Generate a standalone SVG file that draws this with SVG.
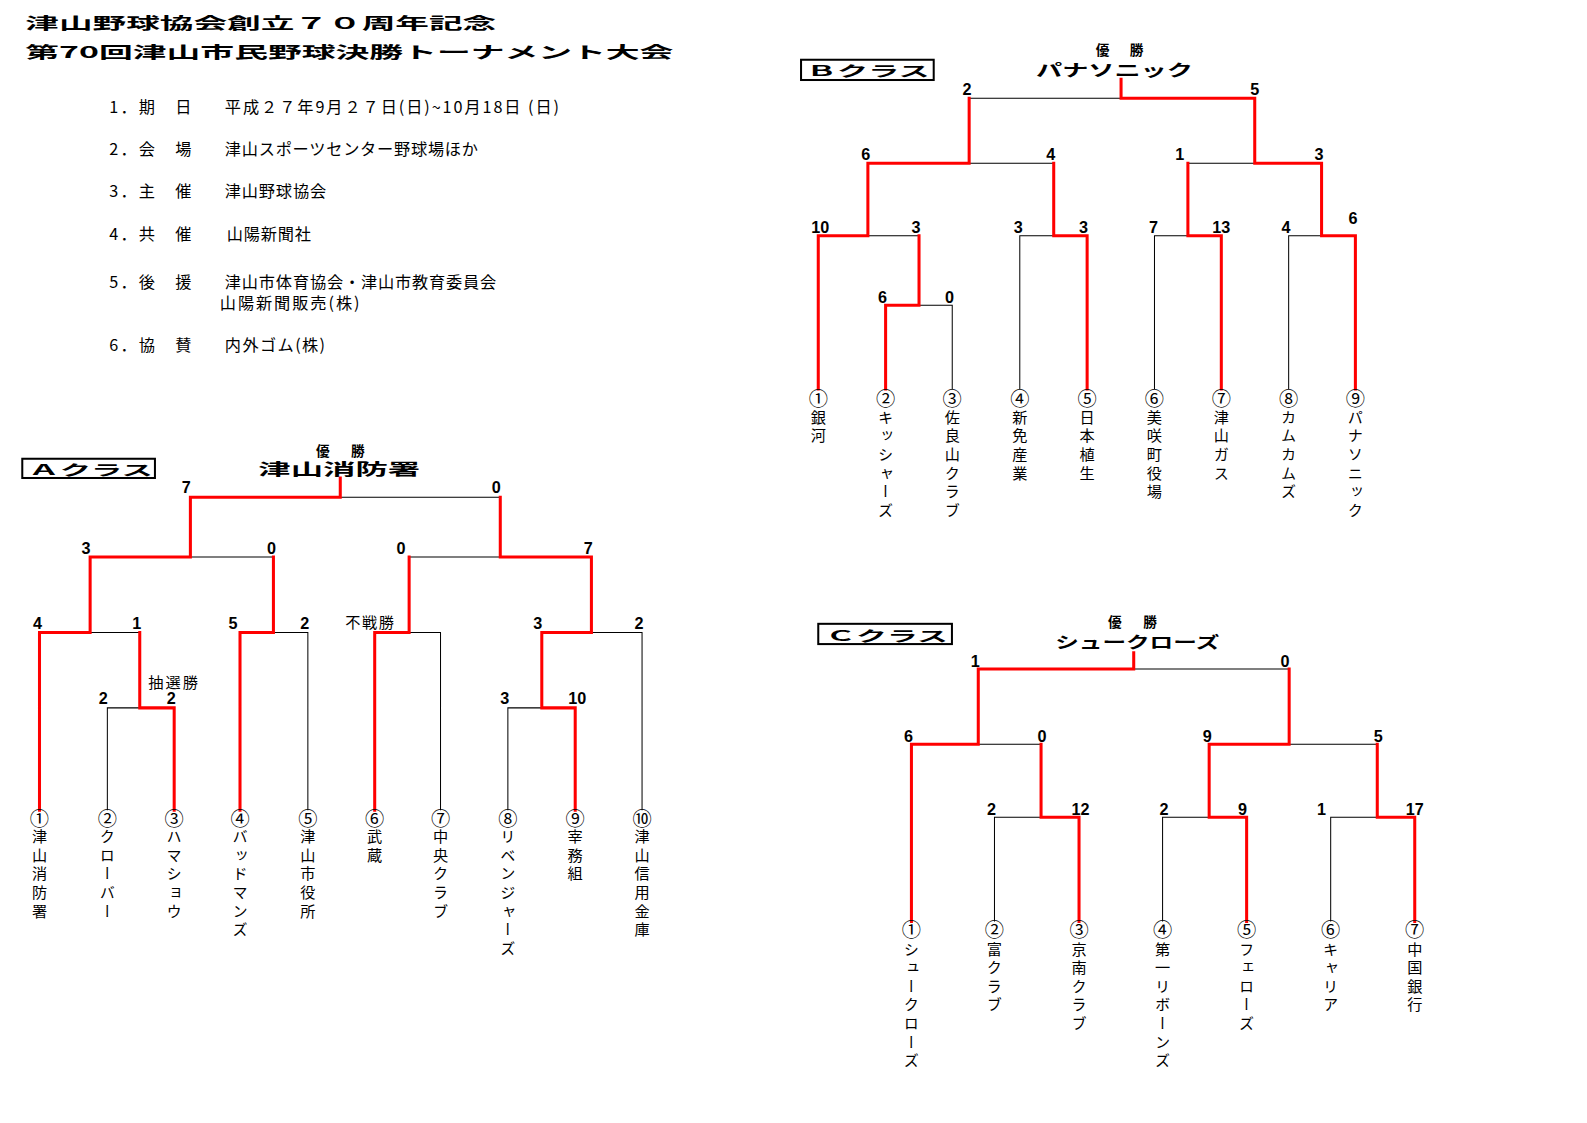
<svg xmlns="http://www.w3.org/2000/svg" width="1587" height="1123" viewBox="0 0 1587 1123">
<style>
.ttl{font-family:"Noto Sans CJK JP","Noto Sans CJK SC",sans-serif;font-weight:700;fill:#000}
.inf{font-family:"Noto Sans CJK JP","Noto Sans CJK SC",sans-serif;font-size:16px;fill:#000}
.box{fill:none;stroke:#000;stroke-width:2}
.cls{font-family:"Noto Sans CJK JP","Noto Sans CJK SC",sans-serif;font-weight:700;font-size:14px}
.win{font-family:"Noto Sans CJK JP","Noto Sans CJK SC",sans-serif;font-weight:700;font-size:13.5px}
.champ{font-family:"Noto Sans CJK JP","Noto Sans CJK SC",sans-serif;font-weight:700;font-size:16px}
.sc{font-family:"Liberation Sans",Arial,sans-serif;font-weight:700;font-size:16px;text-anchor:middle}
.note{font-family:"Noto Sans CJK JP","Noto Sans CJK SC",sans-serif;font-size:15px;text-anchor:middle}
.cn{font-family:"Noto Sans CJK JP","Noto Sans CJK SC",sans-serif;font-size:19px;text-anchor:middle}
.tm{font-family:"Noto Sans CJK JP","Noto Sans CJK SC",sans-serif;font-size:15px;writing-mode:vertical-rl;letter-spacing:3.4px}
.k{fill:none;stroke:#000;stroke-width:1}
.r{fill:none;stroke:#ff0000;stroke-width:3;stroke-linecap:square;stroke-linejoin:miter}
</style>
<rect width="1587" height="1123" fill="#fff"/>
<g transform="scale(1.0127)">
<g id="header">
<text class="ttl" x="25" y="28.5" font-size="15.5" textLength="465" lengthAdjust="spacingAndGlyphs">津山野球協会創立７０周年記念</text>
<text class="ttl" x="25" y="57" font-size="16" textLength="640" lengthAdjust="spacingAndGlyphs">第70回津山市民野球決勝トーナメント大会</text>
</g>
<g id="info">
<text class="inf" x="108" y="111.4" textLength="81" lengthAdjust="spacing">1．期　日</text>
<text class="inf" x="222" y="111.4" textLength="330" lengthAdjust="spacing">平成２７年9月２７日(日)~10月18日 (日)</text>
<text class="inf" x="108" y="152.6" textLength="81" lengthAdjust="spacing">2．会　場</text>
<text class="inf" x="222" y="152.6" textLength="250" lengthAdjust="spacing">津山スポーツセンター野球場ほか</text>
<text class="inf" x="108" y="194.4" textLength="81" lengthAdjust="spacing">3．主　催</text>
<text class="inf" x="222" y="194.4" textLength="100" lengthAdjust="spacing">津山野球協会</text>
<text class="inf" x="108" y="236.5" textLength="81" lengthAdjust="spacing">4．共　催</text>
<text class="inf" x="224" y="236.5" textLength="83" lengthAdjust="spacing">山陽新聞社</text>
<text class="inf" x="108" y="284.2" textLength="81" lengthAdjust="spacing">5．後　援</text>
<text class="inf" x="222" y="284.2" textLength="268" lengthAdjust="spacing">津山市体育協会・津山市教育委員会</text>
<text class="inf" x="217" y="305.6" textLength="138" lengthAdjust="spacing">山陽新聞販売(株)</text>
<text class="inf" x="108" y="346.8" textLength="81" lengthAdjust="spacing">6．協　賛</text>
<text class="inf" x="222" y="346.8" textLength="99" lengthAdjust="spacing">内外ゴム(株)</text>
</g>

<!-- A class -->
<g id="a-class-label">
<rect class="box" x="22" y="453" width="131" height="19"/>
<text class="cls" x="28" y="469.5" textLength="123" lengthAdjust="spacingAndGlyphs">Ａクラス</text>
</g>
<g id="a-champion">
<text class="win" x="312" y="450" textLength="48" lengthAdjust="spacing">優　勝</text>
<text class="champ" x="255" y="469.5" textLength="160" lengthAdjust="spacingAndGlyphs">津山消防署</text>
</g>
<g id="a-connectors">
<path class="k" d="M336 491H494M188 550H270M404 550H494M89 624.5H138M270 624.5H304V800M404 624.5H435V800M584 624.5H634V800M106 800V699H138M501.5 800V699H535"/>
<path class="r" d="M336 472V491H188V550H89V624.5H39V800M494 491V550H584V624.5H535V699H568V800M270 550V624.5H237V800M404 550V624.5H370V800M138 624.5V699H172V800"/>
</g>
<g id="a-scores">
<text class="sc" x="184" y="487">7</text>
<text class="sc" x="490" y="487">0</text>
<text class="sc" x="85" y="547">3</text>
<text class="sc" x="268" y="547">0</text>
<text class="sc" x="396" y="547">0</text>
<text class="sc" x="581" y="547">7</text>
<text class="sc" x="37" y="621.5">4</text>
<text class="sc" x="135" y="621.5">1</text>
<text class="sc" x="230" y="621.5">5</text>
<text class="sc" x="301" y="621.5">2</text>
<text class="note" x="365" y="620.5" textLength="48" lengthAdjust="spacing">不戦勝</text>
<text class="sc" x="531" y="621.5">3</text>
<text class="sc" x="631" y="621.5">2</text>
<text class="note" x="171" y="679.5" textLength="49" lengthAdjust="spacing">抽選勝</text>
<text class="sc" x="102" y="695">2</text>
<text class="sc" x="169" y="695.5">2</text>
<text class="sc" x="498.5" y="695">3</text>
<text class="sc" x="570" y="695">10</text>
</g>
<g id="a-t1"><text class="cn" x="39" y="815.2">①</text><text class="tm" x="39" y="818.4">津山消防署</text></g>
<g id="a-t2"><text class="cn" x="106" y="815.2">②</text><text class="tm" x="106" y="818.4">クローバー</text></g>
<g id="a-t3"><text class="cn" x="172" y="815.2">③</text><text class="tm" x="172" y="818.4">ハマショウ</text></g>
<g id="a-t4"><text class="cn" x="237" y="815.2">④</text><text class="tm" x="237" y="818.4">バッドマンズ</text></g>
<g id="a-t5"><text class="cn" x="304" y="815.2">⑤</text><text class="tm" x="304" y="818.4">津山市役所</text></g>
<g id="a-t6"><text class="cn" x="370" y="815.2">⑥</text><text class="tm" x="370" y="818.4">武蔵</text></g>
<g id="a-t7"><text class="cn" x="435" y="815.2">⑦</text><text class="tm" x="435" y="818.4">中央クラブ</text></g>
<g id="a-t8"><text class="cn" x="501.5" y="815.2">⑧</text><text class="tm" x="501.5" y="818.4">リベンジャーズ</text></g>
<g id="a-t9"><text class="cn" x="568" y="815.2">⑨</text><text class="tm" x="568" y="818.4">宰務組</text></g>
<g id="a-t10"><text class="cn" x="634" y="815.2">⑩</text><text class="tm" x="634" y="818.4">津山信用金庫</text></g>

<!-- B class -->
<g id="b-class-label">
<rect class="box" x="791" y="59" width="131" height="20"/>
<text class="cls" x="796" y="75" textLength="122" lengthAdjust="spacingAndGlyphs">Ｂクラス</text>
</g>
<g id="b-champion">
<text class="win" x="1082" y="54.5" textLength="47" lengthAdjust="spacing">優　勝</text>
<text class="champ" x="1023" y="75.5" textLength="155" lengthAdjust="spacingAndGlyphs">パナソニック</text>
</g>
<g id="b-connectors">
<path class="k" d="M957 97H1107M957 161.3H1040.5M1173 161.3H1239M857 232.7H907.5M1007 384V232.7H1040.5M1140 384V232.7H1173M1272.5 384V232.7H1305M907.5 301.5H940.3V384"/>
<path class="r" d="M1107 78.3V97H1239V161.3H1305V232.7H1338.4V384M957 97V161.3H857V232.7H808V384M1040.5 161.3V232.7H1073.5V384M1173 161.3V232.7H1206V384M907.5 232.7V301.5H874.5V384"/>
</g>
<g id="b-scores">
<text class="sc" x="955" y="94">2</text>
<text class="sc" x="1239" y="94">5</text>
<text class="sc" x="855" y="158.4">6</text>
<text class="sc" x="1037.5" y="158.4">4</text>
<text class="sc" x="1165" y="158.4">1</text>
<text class="sc" x="1302.5" y="158.4">3</text>
<text class="sc" x="810" y="229.8">10</text>
<text class="sc" x="904.5" y="229.8">3</text>
<text class="sc" x="1005.5" y="229.8">3</text>
<text class="sc" x="1070" y="229.8">3</text>
<text class="sc" x="1139" y="229.8">7</text>
<text class="sc" x="1206" y="229.8">13</text>
<text class="sc" x="1270" y="229.8">4</text>
<text class="sc" x="1336" y="221">6</text>
<text class="sc" x="871.5" y="299">6</text>
<text class="sc" x="937.7" y="299">0</text>
</g>
<g id="b-t1"><text class="cn" x="808" y="400.5">①</text><text class="tm" x="808" y="404.3">銀河</text></g>
<g id="b-t2"><text class="cn" x="874.5" y="400.5">②</text><text class="tm" x="874.5" y="404.3">キッシャーズ</text></g>
<g id="b-t3"><text class="cn" x="940.3" y="400.5">③</text><text class="tm" x="940.3" y="404.3">佐良山クラブ</text></g>
<g id="b-t4"><text class="cn" x="1007" y="400.5">④</text><text class="tm" x="1007" y="404.3">新免産業</text></g>
<g id="b-t5"><text class="cn" x="1073.5" y="400.5">⑤</text><text class="tm" x="1073.5" y="404.3">日本植生</text></g>
<g id="b-t6"><text class="cn" x="1140" y="400.5">⑥</text><text class="tm" x="1140" y="404.3">美咲町役場</text></g>
<g id="b-t7"><text class="cn" x="1206" y="400.5">⑦</text><text class="tm" x="1206" y="404.3">津山ガス</text></g>
<g id="b-t8"><text class="cn" x="1272.5" y="400.5">⑧</text><text class="tm" x="1272.5" y="404.3">カムカムズ</text></g>
<g id="b-t9"><text class="cn" x="1338.4" y="400.5">⑨</text><text class="tm" x="1338.4" y="404.3">パナソニック</text></g>

<!-- C class -->
<g id="c-class-label">
<rect class="box" x="808" y="616" width="132" height="20"/>
<text class="cls" x="815" y="632.5" textLength="121" lengthAdjust="spacingAndGlyphs">Ｃクラス</text>
</g>
<g id="c-champion">
<text class="win" x="1094" y="619.5" textLength="48.5" lengthAdjust="spacing">優　勝</text>
<text class="champ" x="1042" y="640" textLength="162" lengthAdjust="spacingAndGlyphs">シュークローズ</text>
</g>
<g id="c-connectors">
<path class="k" d="M1119.5 660.6H1273M966 735H1028M1273 735H1360M982 910V807H1028M1148 910V807H1194M1314 910V807H1360"/>
<path class="r" d="M1119.5 644.5V660.6H966V735H900V910M1273 660.6V735H1194V807H1231V910M1028 735V807H1065.5V910M1360 735V807H1397V910"/>
</g>
<g id="c-scores">
<text class="sc" x="963" y="659">1</text>
<text class="sc" x="1269" y="659">0</text>
<text class="sc" x="897" y="733">6</text>
<text class="sc" x="1029" y="733">0</text>
<text class="sc" x="1192" y="733">9</text>
<text class="sc" x="1361" y="733">5</text>
<text class="sc" x="979" y="805">2</text>
<text class="sc" x="1067" y="805">12</text>
<text class="sc" x="1149.5" y="805">2</text>
<text class="sc" x="1227" y="805">9</text>
<text class="sc" x="1305" y="805">1</text>
<text class="sc" x="1397" y="805">17</text>
</g>
<g id="c-t1"><text class="cn" x="900" y="925.5">①</text><text class="tm" x="900" y="929.4">シュークローズ</text></g>
<g id="c-t2"><text class="cn" x="982" y="925.5">②</text><text class="tm" x="982" y="929.4">富クラブ</text></g>
<g id="c-t3"><text class="cn" x="1065.5" y="925.5">③</text><text class="tm" x="1065.5" y="929.4">京南クラブ</text></g>
<g id="c-t4"><text class="cn" x="1148" y="925.5">④</text><text class="tm" x="1148" y="929.4">第一リボーンズ</text></g>
<g id="c-t5"><text class="cn" x="1231" y="925.5">⑤</text><text class="tm" x="1231" y="929.4">フェローズ</text></g>
<g id="c-t6"><text class="cn" x="1314" y="925.5">⑥</text><text class="tm" x="1314" y="929.4">キャリア</text></g>
<g id="c-t7"><text class="cn" x="1397" y="925.5">⑦</text><text class="tm" x="1397" y="929.4">中国銀行</text></g>
</g>
</svg>
